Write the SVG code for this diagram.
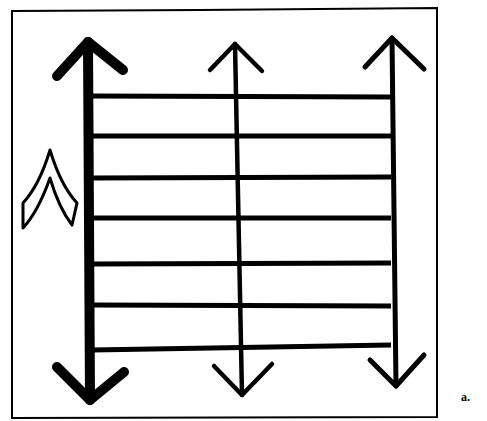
<svg xmlns="http://www.w3.org/2000/svg" width="487" height="421" viewBox="0 0 487 421">
<style>
.ln{fill:none;stroke:#000;stroke-linecap:round;stroke-linejoin:round}
.thick{stroke-width:10}
.mid{stroke-width:4.5}
.rgt{stroke-width:5}
.rung{stroke-width:5;stroke-linecap:butt}
.frame{fill:none;stroke:#000;stroke-width:2}
</style>
<rect width="487" height="421" fill="#fff"/>
<path class="frame" d="M12,11 L200,10 L437,8 L437,417 L12,418 Z"/>
<g id="rungs" class="ln rung">
<line x1="92" y1="96" x2="391" y2="97"/>
<line x1="92" y1="136" x2="391" y2="136"/>
<line x1="92" y1="178" x2="391" y2="177"/>
<line x1="92" y1="218" x2="391" y2="218"/>
<line x1="92" y1="264" x2="391" y2="263"/>
<line x1="92" y1="305" x2="391" y2="306"/>
<line x1="92" y1="350" x2="391" y2="345"/>
</g>
<g id="arrow-left" class="ln thick">
<line x1="88" y1="42" x2="90" y2="400"/>
<path d="M57,76 L88,42 L123,70"/>
<path d="M57,367 L90,400 L124,372"/>
</g>
<g id="arrow-middle" class="ln mid">
<line x1="235" y1="44" x2="242" y2="395"/>
<path d="M210,70 L235,44 L262,71"/>
<path d="M214,366 L242,395 L272,364"/>
</g>
<g id="arrow-right" class="ln rgt">
<line x1="392" y1="38" x2="396" y2="386"/>
<path d="M365,67 L392,38 L424,69"/>
<path d="M370,360 L396,386 L424,355"/>
</g>
<g id="chevron">
<path d="M50,150 C44,170 35,190 23,203 L23,228 C35,215 44,195 50,178 C55,195 62,212 72,225 L77,203 C65,190 56,170 50,150 Z" fill="#fff" stroke="#000" stroke-width="3" stroke-linejoin="round"/>
</g>
<text x="461" y="401" font-family="Liberation Serif, serif" font-size="12" font-weight="bold">a.</text>
</svg>
